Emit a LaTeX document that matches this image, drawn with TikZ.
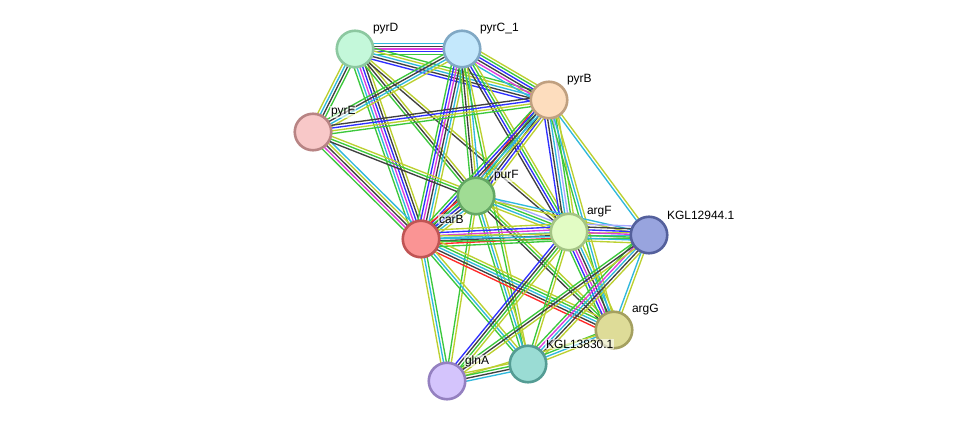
\documentclass[tikz,border=0pt]{standalone}
\usepackage{fontspec}
\setmainfont{Liberation Sans}
\usetikzlibrary{calc}
\pgfdeclarelayer{bg}
\pgfsetlayers{bg,main}
\definecolor{eG}{HTML}{3CC83C}
\definecolor{eR}{HTML}{FF2828}
\definecolor{eB}{HTML}{3030FF}
\definecolor{eK}{HTML}{404040}
\definecolor{eM}{HTML}{DC3CDC}
\definecolor{eC}{HTML}{30B8DC}
\definecolor{eY}{HTML}{BCD030}
\definecolor{eL}{HTML}{A8A8FF}
\definecolor{dpyrD}{HTML}{8CC8A0}\definecolor{fpyrD}{HTML}{C4F8DA}
\definecolor{dpyrC}{HTML}{80A8C4}\definecolor{fpyrC}{HTML}{C4E8FC}
\definecolor{dpyrB}{HTML}{C0A080}\definecolor{fpyrB}{HTML}{FDDDBE}
\definecolor{dpyrE}{HTML}{B88484}\definecolor{fpyrE}{HTML}{F8C8C8}
\definecolor{dpurF}{HTML}{64A864}\definecolor{fpurF}{HTML}{A0DC94}
\definecolor{dcarB}{HTML}{C05454}\definecolor{fcarB}{HTML}{FA9494}
\definecolor{dargF}{HTML}{A4C484}\definecolor{fargF}{HTML}{E2FCC4}
\definecolor{dkgla}{HTML}{54609C}\definecolor{fkgla}{HTML}{98A4DE}
\definecolor{dargG}{HTML}{A4A060}\definecolor{fargG}{HTML}{DEDC98}
\definecolor{dkglb}{HTML}{549C94}\definecolor{fkglb}{HTML}{9ADCD4}
\definecolor{dglnA}{HTML}{9480C0}\definecolor{fglnA}{HTML}{D4C4FC}
\tikzset{
  prot/.style={circle, minimum size=36.5pt, inner sep=0pt, line width=2.6pt, draw=d#1, fill=f#1},
  lbl/.style={anchor=west, font=\fontsize{12}{14}\selectfont, inner sep=0.8pt, fill=white, fill opacity=0.6, text opacity=1},
  eline/.style={line width=1.35pt}
}
\newcommand\sedge[3]{%
  \foreach \ec [count=\n] in {#3} {\xdef\nedge{\n}}%
  \foreach \ec [count=\i] in {#3} {%
    \pgfmathsetmacro\off{(\i-(\nedge+1)/2)*2.8}%
    \draw[eline, color=e\ec] ($(#1.center)!\off pt!90:(#2.center)$) -- ($(#2.center)!\off pt!-90:(#1.center)$);
  }}
\begin{document}
\begin{tikzpicture}[x=1pt,y=-1pt]
\useasboundingbox (0,0) rectangle (976,427);
% nodes
\node[prot=pyrD] (pyrD) at (355,49) {};
\node[prot=pyrC] (pyrC) at (462,49) {};
\node[prot=pyrB] (pyrB) at (549,100) {};
\node[prot=pyrE] (pyrE) at (313,132) {};
\node[prot=purF] (purF) at (476,196) {};
\node[prot=carB] (carB) at (421,239) {};
\node[prot=argF] (argF) at (569,232) {};
\node[prot=kgla] (kgla) at (649,235) {};
\node[prot=argG] (argG) at (614,330) {};
\node[prot=kglb] (kglb) at (528,364) {};
\node[prot=glnA] (glnA) at (447,381) {};
% labels
\node[lbl] (lpyrD) at ($(pyrD)+(17,-20)$) {pyrD};
\node[lbl] (lpyrC) at ($(pyrC)+(17,-20)$) {pyrC\_1};
\node[lbl] (lpyrB) at ($(pyrB)+(17,-20)$) {pyrB};
\node[lbl] (lpyrE) at ($(pyrE)+(17,-20)$) {pyrE};
\node[lbl] (lpurF) at ($(purF)+(17,-20)$) {purF};
\node[lbl] (lcarB) at ($(carB)+(17,-20)$) {carB};
\node[lbl] (largF) at ($(argF)+(17,-20)$) {argF};
\node[lbl] (lkgla) at ($(kgla)+(17,-20)$) {KGL12944.1};
\node[lbl] (largG) at ($(argG)+(17,-20)$) {argG};
\node[lbl] (lkglb) at ($(kglb)+(17,-20)$) {KGL13830.1};
\node[lbl] (lglnA) at ($(glnA)+(17,-20)$) {glnA};
% edges
\begin{pgfonlayer}{bg}
\sedge{pyrD}{pyrC}{G,B,M,K,C}
\sedge{pyrD}{pyrB}{B,K,C,Y,G}
\sedge{pyrD}{pyrE}{Y,C,K,G}
\sedge{pyrD}{carB}{G,C,M,B,K,Y}
\sedge{pyrD}{purF}{G,K,Y}
\sedge{pyrD}{argF}{K,Y}
\sedge{pyrC}{pyrB}{C,M,K,B,G,Y}
\sedge{pyrC}{pyrE}{G,K,C,Y}
\sedge{pyrC}{carB}{G,B,M,K,C,Y}
\sedge{pyrC}{purF}{G,K,Y,C}
\sedge{pyrC}{argF}{K,B,G,Y}
\sedge{pyrC}{kglb}{G,Y}
\sedge{pyrB}{pyrE}{K,B,Y,G}
\sedge{pyrB}{purF}{R,G,C,K,B,Y}
\sedge{pyrB}{carB}{G,B,K,C,Y}
\sedge{pyrB}{argF}{B,K,C,L,G,Y}
\sedge{pyrB}{kgla}{C,Y}
\sedge{pyrB}{argG}{G,C,Y}
\sedge{pyrE}{carB}{G,M,K,Y,C}
\sedge{pyrE}{purF}{K,G,Y}
\sedge{purF}{carB}{R,G,B,K,C,Y}
\sedge{purF}{argF}{Y,C,G,L}
\sedge{purF}{kgla}{Y,C}
\sedge{purF}{argG}{K,G,Y}
\sedge{purF}{kglb}{G,C,Y}
\sedge{purF}{glnA}{G,Y}
\sedge{carB}{argF}{G,R,K,C,M,B,Y}
\sedge{carB}{kgla}{G,C,Y}
\sedge{carB}{argG}{R,K,C,G,Y}
\sedge{carB}{kglb}{G,C,Y}
\sedge{carB}{glnA}{Y,C,G}
\sedge{argF}{kgla}{Y,C,G,M,B,K,L}
\sedge{argF}{argG}{G,B,M,K,C,Y}
\sedge{argF}{kglb}{G,Y}
\sedge{argF}{glnA}{B,K,G,Y}
\sedge{kgla}{argG}{C,Y}
\sedge{kgla}{kglb}{G,M,C,K,Y}
\sedge{kgla}{glnA}{G,K,Y}
\sedge{argG}{kglb}{G,C,Y}
\sedge{argG}{glnA}{Y}
\sedge{kglb}{glnA}{Y,G,K,C}
\end{pgfonlayer}
\end{tikzpicture}
\end{document}
